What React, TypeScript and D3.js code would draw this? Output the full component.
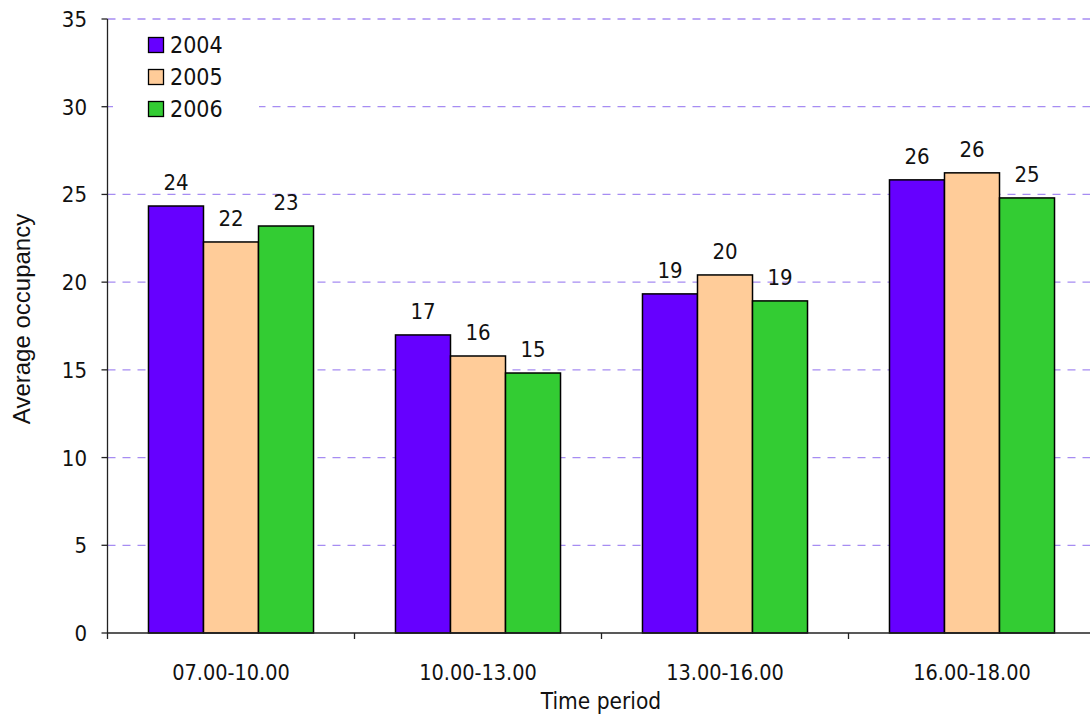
import React from "react";
import * as d3 from "d3";

// Average occupancy by time period, three survey years
const periods = ["07.00-10.00", "10.00-13.00", "13.00-16.00", "16.00-18.00"];
const years = ["2004", "2005", "2006"];
const values2004 = [24.34, 16.99, 19.33, 25.83];
const values2005 = [22.29, 15.79, 20.41, 26.23];
const values2006 = [23.2, 14.82, 18.93, 24.8];
const yTicks = [0, 5, 10, 15, 20, 25, 30, 35];
const colors = ["#6600ff", "#ffcc99", "#33cc33"];

const W = 1090;
const H = 718;
const FONT = "'DejaVu Sans Condensed', 'DejaVu Sans', sans-serif";
const TITLE_FONT = "'Liberation Sans', Arial, sans-serif";

export default function App() {
  const series = [values2004, values2005, values2006];
  const left = 107.5;
  const bottom = 633;
  const top = 19;

  const x0 = d3.scaleBand<string>().domain(periods).range([left, left + 4 * 247]);
  const x1 = d3
    .scaleBand<string>()
    .domain(years)
    .range([0, x0.bandwidth()])
    .paddingInner(0)
    .paddingOuter(0.745);
  const y = d3.scaleLinear().domain([0, 35]).range([bottom, top]);
  const fmt = d3.format(".0f");

  const boundaries = periods.map((p) => x0(p)!).concat([x0(periods[3])! + x0.bandwidth()]);

  return (
    <svg
      width={W}
      height={H}
      style={{ position: "absolute", left: 0, top: 0, background: "#fff" }}
      fontFamily={FONT}
    >
      {/* gridlines */}
      {yTicks
        .filter((t) => t > 0)
        .map((t) => (
          <line
            key={"g" + t}
            x1={left}
            x2={W}
            y1={y(t)}
            y2={y(t)}
            stroke="#a68cf2"
            strokeWidth={1.3}
            strokeDasharray="8,7"
          />
        ))}

      {/* legend */}
      <rect x={113} y={26} width={146} height={100} fill="#fff" />
      {years.map((yr, i) => (
        <g key={"l" + yr} transform={`translate(148,${37 + i * 32})`}>
          <rect x={0.5} y={0.5} width={15} height={15} fill={colors[i]} stroke="#000" strokeWidth={1.3} />
          <text x={22} y={16} fontSize={23} fill="#111">
            {yr}
          </text>
        </g>
      ))}

      {/* bars */}
      {periods.map((p, pi) => (
        <g key={p} transform={`translate(${x0(p)},0)`}>
          {years.map((yr, si) => {
            const v = series[si][pi];
            const bx = x1(yr)!;
            return (
              <g key={yr}>
                <rect
                  x={bx}
                  y={y(v)}
                  width={x1.bandwidth()}
                  height={bottom - y(v)}
                  fill={colors[si]}
                  stroke="#000"
                  strokeWidth={1.5}
                />
                <text
                  x={bx + x1.bandwidth() / 2}
                  y={y(v) - 16}
                  textAnchor="middle"
                  fontSize={22}
                  fill="#111"
                >
                  {fmt(v)}
                </text>
              </g>
            );
          })}
        </g>
      ))}

      {/* axes */}
      <line x1={left} x2={left} y1={top} y2={bottom} stroke="#222" strokeWidth={1.3} />
      <line x1={left} x2={W} y1={bottom} y2={bottom} stroke="#222" strokeWidth={1.3} />
      {yTicks.map((t) => (
        <g key={"yt" + t}>
          <line x1={left - 6} x2={left} y1={y(t)} y2={y(t)} stroke="#222" strokeWidth={1.3} />
          <text x={87} y={y(t) + 8} textAnchor="end" fontSize={22} fill="#111">
            {t}
          </text>
        </g>
      ))}
      {boundaries.map((b, i) => (
        <line key={"xt" + i} x1={b} x2={b} y1={bottom} y2={bottom + 6} stroke="#222" strokeWidth={1.3} />
      ))}
      {periods.map((p) => (
        <text
          key={"xl" + p}
          x={x0(p)! + x0.bandwidth() / 2}
          y={680}
          textAnchor="middle"
          fontSize={21.5}
          fill="#111"
        >
          {p}
        </text>
      ))}

      {/* axis titles */}
      <text x={601} y={709} textAnchor="middle" fontSize={22.5} fill="#111">
        Time period
      </text>
      <text
        transform={`translate(30,319) rotate(-90)`}
        textAnchor="middle"
        fontSize={24}
        fontFamily={TITLE_FONT}
        fill="#111"
      >
        Average occupancy
      </text>
    </svg>
  );
}
